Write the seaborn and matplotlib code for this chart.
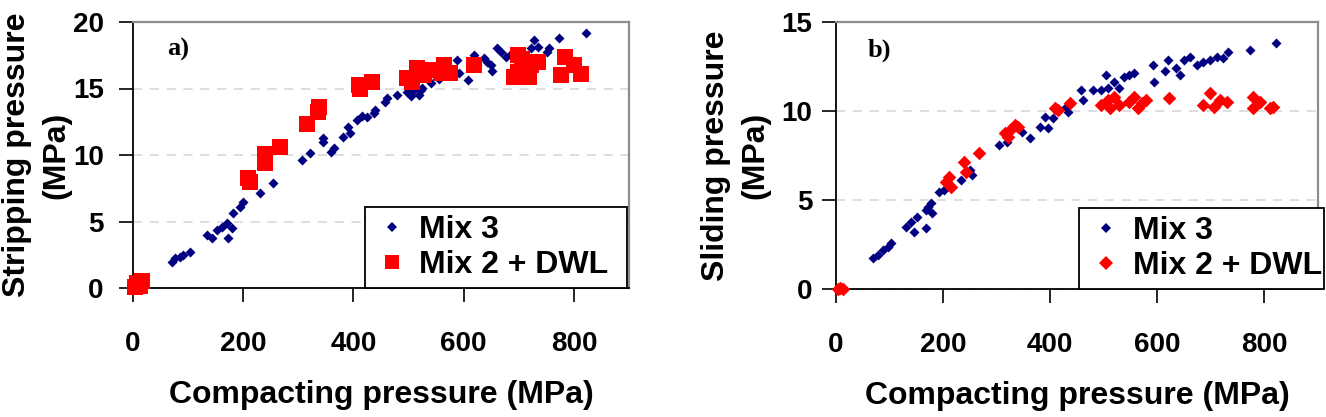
import pandas as pd
import matplotlib.pyplot as plt
import seaborn as sns
from matplotlib.lines import Line2D

# ---------------- data ----------------
mix3_a_x = [70, 76, 85, 91, 104, 134, 143, 152, 161, 170, 179, 173, 182, 194, 200,
            230, 254, 307, 322, 345, 345, 359, 364, 381, 391, 394, 406, 415, 424,
            437, 440, 458, 461, 479, 497, 504, 510, 519, 522, 525, 540, 555, 570,
            588, 592, 607, 619, 625, 637, 643, 649, 652, 661, 667, 676, 685, 704,
            722, 728, 734, 752, 755, 773, 822]
mix3_a_y = [1.98, 2.26, 2.35, 2.48, 2.73, 3.98, 3.74, 4.36, 4.61, 4.86, 4.49, 3.74,
            5.62, 6.11, 6.49, 7.12, 7.87, 9.62, 10.17, 11.0, 11.25, 10.25, 10.5,
            11.38, 12.13, 11.63, 12.63, 12.93, 12.88, 13.13, 13.38, 14.01, 14.26,
            14.51, 14.76, 14.44, 14.89, 14.5, 14.9, 15.02, 15.4, 15.7, 16.0,
            17.17, 16.17, 15.64, 17.52, 16.8, 17.27, 17.0, 16.77, 16.3, 18.02,
            17.77, 17.39, 17.6, 17.77, 18.02, 18.65, 18.15, 17.77, 18.02, 18.78,
            19.15]
dwl_a_x = [3, 8, 12, 16, 208, 212, 240, 240, 267, 316, 335, 338, 410, 412, 434,
           498, 506, 516, 528, 540, 558, 564, 576, 619, 692, 698, 698, 705, 719,
           722, 734, 776, 783, 801, 813]
dwl_a_y = [0.1, 0.35, 0.15, 0.5, 8.3, 8.0, 10.1, 9.4, 10.6, 12.3, 13.2, 13.6,
           15.26, 14.95, 15.5, 15.77, 15.5, 16.52, 16.0, 16.4, 16.14, 16.77,
           16.14, 16.8, 15.9, 16.26, 17.5, 17.2, 15.9, 16.77, 17.0, 16.0, 17.4,
           16.8, 16.1]

mix3_b_x = [69, 78, 88, 97, 103, 131, 140, 146, 152, 168, 171, 177, 180, 168, 193,
            202, 233, 251, 254, 304, 319, 347, 362, 381, 390, 396, 406, 433, 429,
            458, 461, 480, 495, 504, 507, 520, 529, 538, 548, 557, 591, 594, 619,
            615, 634, 643, 649, 661, 674, 686, 698, 711, 723, 732, 773, 822]
mix3_b_y = [1.72, 1.91, 2.19, 2.38, 2.57, 3.5, 3.78, 3.22, 4.06, 4.44, 4.62, 4.81,
            4.25, 3.41, 5.47, 5.56, 6.12, 6.69, 6.40, 8.09, 8.28, 8.84, 8.47, 9.12,
            9.68, 9.03, 9.59, 9.96, 10.24, 11.18, 10.62, 11.18, 11.18, 12.02, 11.28,
            11.65, 11.28, 11.93, 12.02, 12.12, 12.58, 11.65, 12.87, 12.26, 12.40,
            12.02, 12.87, 13.05, 12.58, 12.77, 12.87, 13.05, 12.96, 13.33, 13.43,
            13.80]
dwl_b_x = [3, 8, 13, 205, 211, 214, 239, 242, 267, 316, 322, 325, 334, 340, 408,
           415, 436, 495, 507, 511, 520, 529, 548, 557, 563, 572, 578, 622, 686,
           698, 705, 717, 730, 779, 779, 791, 810, 816]
dwl_b_y = [0.0, 0.05, 0.0, 6.03, 6.31, 5.75, 7.15, 6.59, 7.62, 8.75, 8.56, 8.93,
           9.21, 9.12, 10.15, 10.06, 10.43, 10.34, 10.62, 10.15, 10.8, 10.34,
           10.52, 10.8, 10.15, 10.43, 10.62, 10.71, 10.34, 10.99, 10.24, 10.62,
           10.52, 10.8, 10.15, 10.52, 10.15, 10.24]

series_names = ["Mix 3", "Mix 2 + DWL"]
x_ticks = [0, 200, 400, 600, 800]

# ---------------- style ----------------
sns.set_style("ticks")
plt.rcParams['font.family'] = ['Liberation Sans', 'DejaVu Sans']
plt.rcParams['font.weight'] = 'bold'
plt.rcParams['axes.labelweight'] = 'bold'
for key in ['text.color', 'axes.labelcolor', 'xtick.color', 'ytick.color']:
    plt.rcParams[key] = 'black'

NAVY = "#000080"
RED = "#ff0000"

fig = plt.figure(figsize=(13.26, 4.17), dpi=100)
ax_a = fig.add_axes([133 / 1326, 1 - 288 / 417, 496 / 1326, 266 / 417])
ax_b = fig.add_axes([836 / 1326, 1 - 289 / 417, 482 / 1326, 267 / 417])

panels = [
    (ax_a, mix3_a_x, mix3_a_y, dwl_a_x, dwl_a_y, 's', 117, 20, "a)",
     "Stripping pressure\n(MPa)", 11, -0.125, (0.468, 0.0, 0.528, 0.316)),
    (ax_b, mix3_b_x, mix3_b_y, dwl_b_x, dwl_b_y, 'D', 48, 15, "b)",
     "Sliding pressure\n(MPa)", 7, -0.137, (0.504, 0.0, 0.508, 0.326)),
]

for ax, mx, my, dx, dy, dmark, dsize, ymax, tag, ylab, ypad, ylab_x, leg_box in panels:
    df_m = pd.DataFrame({'x': mx, 'y': my})
    df_d = pd.DataFrame({'x': dx, 'y': dy})
    sns.scatterplot(data=df_m, x='x', y='y', ax=ax, marker='D', s=26,
                    color=NAVY, linewidth=0, clip_on=False, zorder=3)
    sns.scatterplot(data=df_d, x='x', y='y', ax=ax, marker=dmark, s=dsize,
                    color=RED, linewidth=0, clip_on=False, zorder=4)

    ax.set_xlim(0, 900)
    ax.set_ylim(0, ymax)
    ax.set_xticks(x_ticks)
    ax.set_yticks(range(0, ymax + 1, 5))

    ax.yaxis.grid(True, linestyle=(0, (6, 5)), color='#d4d4d4', linewidth=1.1)
    ax.set_axisbelow(True)

    for side in ['left', 'bottom']:
        ax.spines[side].set_color('black')
        ax.spines[side].set_linewidth(1.3)
    for side in ['top', 'right']:
        ax.spines[side].set_visible(True)
        ax.spines[side].set_color('#8c8c8c')
        ax.spines[side].set_linewidth(1.6)

    ax.tick_params(axis='both', direction='out', length=10, width=1.2,
                   color='black', labelcolor='black', labelsize=20)
    ax.tick_params(axis='x', pad=21)
    ax.tick_params(axis='y', pad=ypad)

    ax.set_xlabel("Compacting pressure (MPa)", fontsize=23, fontweight='bold')
    ax.xaxis.set_label_coords(0.5, -0.345)
    ax.set_ylabel(ylab, fontsize=23, fontweight='bold', linespacing=1.4)
    ax.yaxis.set_label_coords(ylab_x, 0.5)

    ax.text(0.09, 0.895, tag, transform=ax.transAxes, ha='center', va='center',
            fontsize=19, fontweight='bold', family='Liberation Serif')

    handles = [
        Line2D([], [], linestyle='none', marker='D', markersize=5.1,
               markerfacecolor=NAVY, markeredgewidth=0),
        Line2D([], [], linestyle='none', marker=dmark,
               markersize=(dsize ** 0.5) * (0.95 if dmark == 's' else 1.0),
               markerfacecolor=RED, markeredgewidth=0),
    ]
    leg = ax.legend(handles, series_names, loc='lower left', bbox_to_anchor=leg_box,
                    mode='expand', borderaxespad=0, fontsize=23, frameon=True,
                    fancybox=False, edgecolor='black', framealpha=1,
                    handlelength=1.2, handletextpad=0.25, borderpad=0.25,
                    labelspacing=0.15)
    leg.get_frame().set_linewidth(1.3)
    leg.set_zorder(10)

plt.savefig("out.png", dpi=100)
